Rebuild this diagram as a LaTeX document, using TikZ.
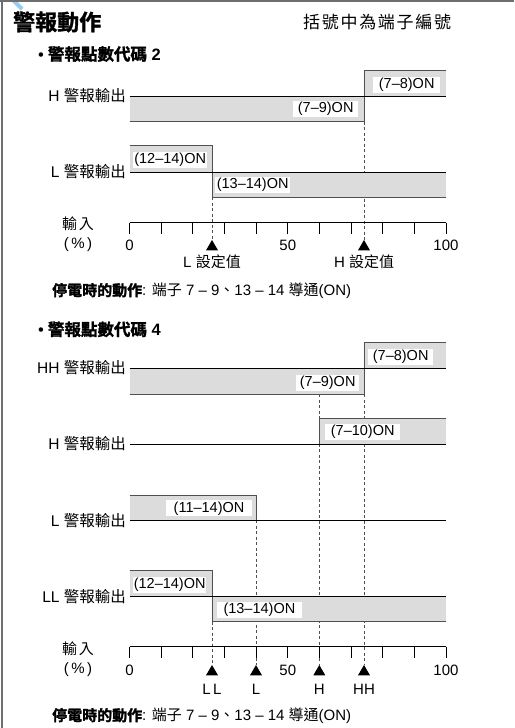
\documentclass[tikz,border=0pt]{standalone}
\usepackage{fontspec}
\setmainfont{Liberation Sans}
\newfontfamily\cjk{Noto Sans CJK TC}
\newfontfamily\cjkheavy[FakeBold=1.6]{Noto Sans CJK TC Bold}
\usetikzlibrary{shapes.geometric}
\definecolor{ongray}{RGB}{220,220,220}
\definecolor{edgegray}{RGB}{80,80,80}
\definecolor{framegray}{RGB}{110,110,110}
\definecolor{streak}{RGB}{150,205,235}
\tikzset{
	boxedge/.style={draw=edgegray, line width=0.9pt},
	baseln/.style={draw=black, line width=0.8pt},
	dashln/.style={draw=edgegray, line width=0.8pt, dash pattern=on 3pt off 2.5pt},
	onlbl/.style={fill=white, anchor=west, inner xsep=0pt, inner ysep=0pt, minimum height=16pt, minimum width=#1, font=\fontsize{14.5}{15}\selectfont},
	rowlbl/.style={anchor=east, inner sep=0pt, font=\fontsize{15.5}{16}\selectfont},
	txt/.style={inner sep=0pt, font=\fontsize{15}{16}\selectfont},
	tri/.style={regular polygon, regular polygon sides=3, fill=black, inner sep=0pt, minimum size=13.9pt},
}
\begin{document}
\begin{tikzpicture}[x=1pt,y=-1pt]
	\useasboundingbox (0,0) rectangle (514,728);
	\draw[streak, line width=4pt] (12,-1) -- (22,9);
	\draw[framegray, line width=1.5pt] (0,1) -- (514,1);
	\draw[framegray, line width=1.5pt] (2,0) -- (2,728);
	\node[anchor=west, inner sep=0pt, font=\fontsize{22}{24}\selectfont\cjkheavy] (title) at (13,22) {警報動作};
	\node[anchor=west, inner sep=0pt, font=\fontsize{17}{18}\selectfont\cjk\addfontfeature{LetterSpace=10}] (note) at (303,22) {括號中為端子編號};

	\node[anchor=west, inner sep=0pt, font=\fontsize{16.5}{18}\selectfont] (head2) at (38,54) {•\hspace{4pt}{\cjkheavy 警報點數代碼} \textbf{2}};
	\node[rowlbl] (hout1) at (126,95.5) {H {\cjk 警報輸出}};
	\node[rowlbl] (lout1) at (126,171.5) {L {\cjk 警報輸出}};
	\node[tri] (tl1) at (212,246.9) {};
	\node[tri] (th1) at (364,246.9) {};
	\coordinate (dl1) at (212,197.3);
	\coordinate (dh1) at (364,121.7);
	\draw[dashln] (dl1) -- (tl1.north);
	\draw[dashln] (dh1) -- (th1.north);
	\fill[ongray] (129.5,96.7) rectangle (364,121.7);
	\fill[ongray] (364,70.7) rectangle (446,96.7);
	\draw[boxedge] (129.5,121.7) -- (364,121.7) -- (364,70.7) -- (446,70.7);
	\draw[baseln] (129.5,96.7) -- (446,96.7);
	\fill[ongray] (129.5,145.7) rectangle (212,172.3);
	\fill[ongray] (212,172.3) rectangle (446,197.3);
	\draw[boxedge] (129.5,145.7) -- (212,145.7) -- (212,197.3) -- (446,197.3);
	\draw[baseln] (129.5,172.3) -- (446,172.3);
	\node[onlbl=67pt] (on78a) at (373,85) {(7–8)ON};
	\node[onlbl=65pt] (on79a) at (293,108.5) {(7–9)ON};
	\node[onlbl=74pt] (on1214a) at (133,159.5) {(12–14)ON};
	\node[onlbl=75pt] (on1314a) at (215,184.7) {(13–14)ON};
	\draw[baseln] (129.5,222.7) -- (446,222.7);
	\foreach \i in {0,...,10}
		\draw[baseln] ({129.5+31.65*\i},222.7) -- ++(0,11.3);
	\node[txt] (inp1) at (78,224) {\cjk 輸\hspace{2pt}入};
	\node[txt] (pct1) at (78,244.3) {(\,\%\,)};
	\node[txt] (v0a) at (129.5,245) {0};
	\node[txt] (v50a) at (287.75,245) {50};
	\node[txt] (v100a) at (446,245) {100};
	\node[txt] (sl1) at (212,261.7) {L {\cjk 設定值}};
	\node[txt] (sh1) at (364,261.7) {H {\cjk 設定值}};
	\node[txt, anchor=west] (pf1) at (52,291) {{\cjkheavy 停電時的動作}: {\cjk 端子} 7 – 9{\cjk 、}13 – 14 {\cjk 導通}(ON)};

	\node[anchor=west, inner sep=0pt, font=\fontsize{16.5}{18}\selectfont] (head4) at (38,329.3) {•\hspace{4pt}{\cjkheavy 警報點數代碼} \textbf{4}};
	\node[rowlbl] (hhout2) at (126,367.5) {HH {\cjk 警報輸出}};
	\node[rowlbl] (hout2) at (126,443.5) {H {\cjk 警報輸出}};
	\node[rowlbl] (lout2) at (126,520.5) {L {\cjk 警報輸出}};
	\node[rowlbl] (llout2) at (126,597) {LL {\cjk 警報輸出}};
	\node[tri] (tll2) at (212,671.9) {};
	\node[tri] (tl2) at (256,671.9) {};
	\node[tri] (th2) at (319.3,671.9) {};
	\node[tri] (thh2) at (364,671.9) {};
	\coordinate (dll2) at (212,621.7);
	\coordinate (dl2) at (256,520);
	\coordinate (dh2) at (319.3,394);
	\coordinate (dhh2) at (364,394);
	\draw[dashln] (dll2) -- (tll2.north);
	\draw[dashln] (dl2) -- (tl2.north);
	\draw[dashln] (dh2) -- (th2.north);
	\draw[dashln] (dhh2) -- (thh2.north);
	\fill[ongray] (129.5,368.3) rectangle (364,394);
	\fill[ongray] (364,342.7) rectangle (446,368.3);
	\draw[boxedge] (129.5,394) -- (364,394) -- (364,342.7) -- (446,342.7);
	\draw[baseln] (129.5,368.3) -- (446,368.3);
	\fill[ongray] (319.3,418.7) rectangle (446,444.3);
	\draw[boxedge] (319.3,444.3) -- (319.3,418.7) -- (446,418.7);
	\draw[baseln] (129.5,444.3) -- (446,444.3);
	\fill[ongray] (129.5,495) rectangle (256,520);
	\draw[boxedge] (129.5,495) -- (256,495) -- (256,520);
	\draw[baseln] (129.5,520) -- (446,520);
	\fill[ongray] (129.5,570.7) rectangle (212,596.7);
	\fill[ongray] (212,596.7) rectangle (446,621.7);
	\draw[boxedge] (129.5,570.7) -- (212,570.7) -- (212,621.7) -- (446,621.7);
	\draw[baseln] (129.5,596.7) -- (446,596.7);
	\node[onlbl=65pt] (on78b) at (368,356.5) {(7–8)ON};
	\node[onlbl=63pt] (on79b) at (296,382.5) {(7–9)ON};
	\node[onlbl=75pt] (on710) at (325,431.8) {(7–10)ON};
	\node[onlbl=85.7pt] (on1114) at (166,508.3) {(11–14)ON};
	\node[onlbl=73pt] (on1214b) at (133,584.7) {(12–14)ON};
	\node[onlbl=85pt] (on1314b) at (216.7,609.7) {(13–14)ON};
	\draw[baseln] (129.5,646.7) -- (446,646.7);
	\foreach \i in {0,...,10}
		\draw[baseln] ({129.5+31.65*\i},646.7) -- ++(0,11.3);
	\node[txt] (inp2) at (78,648.3) {\cjk 輸\hspace{2pt}入};
	\node[txt] (pct2) at (78,669.3) {(\,\%\,)};
	\node[txt] (v0b) at (129.5,670) {0};
	\node[txt] (v50b) at (287.75,670) {50};
	\node[txt] (v100b) at (446,670) {100};
	\node[txt] (sll2) at (212,689.3) {L\,L};
	\node[txt] (sl2) at (256,689.3) {L};
	\node[txt] (sh2) at (319.3,689.3) {H};
	\node[txt] (shh2) at (364,689.3) {HH};
	\node[txt, anchor=west] (pf2) at (52,716) {{\cjkheavy 停電時的動作}: {\cjk 端子} 7 – 9{\cjk 、}13 – 14 {\cjk 導通}(ON)};
\end{tikzpicture}
\end{document}
